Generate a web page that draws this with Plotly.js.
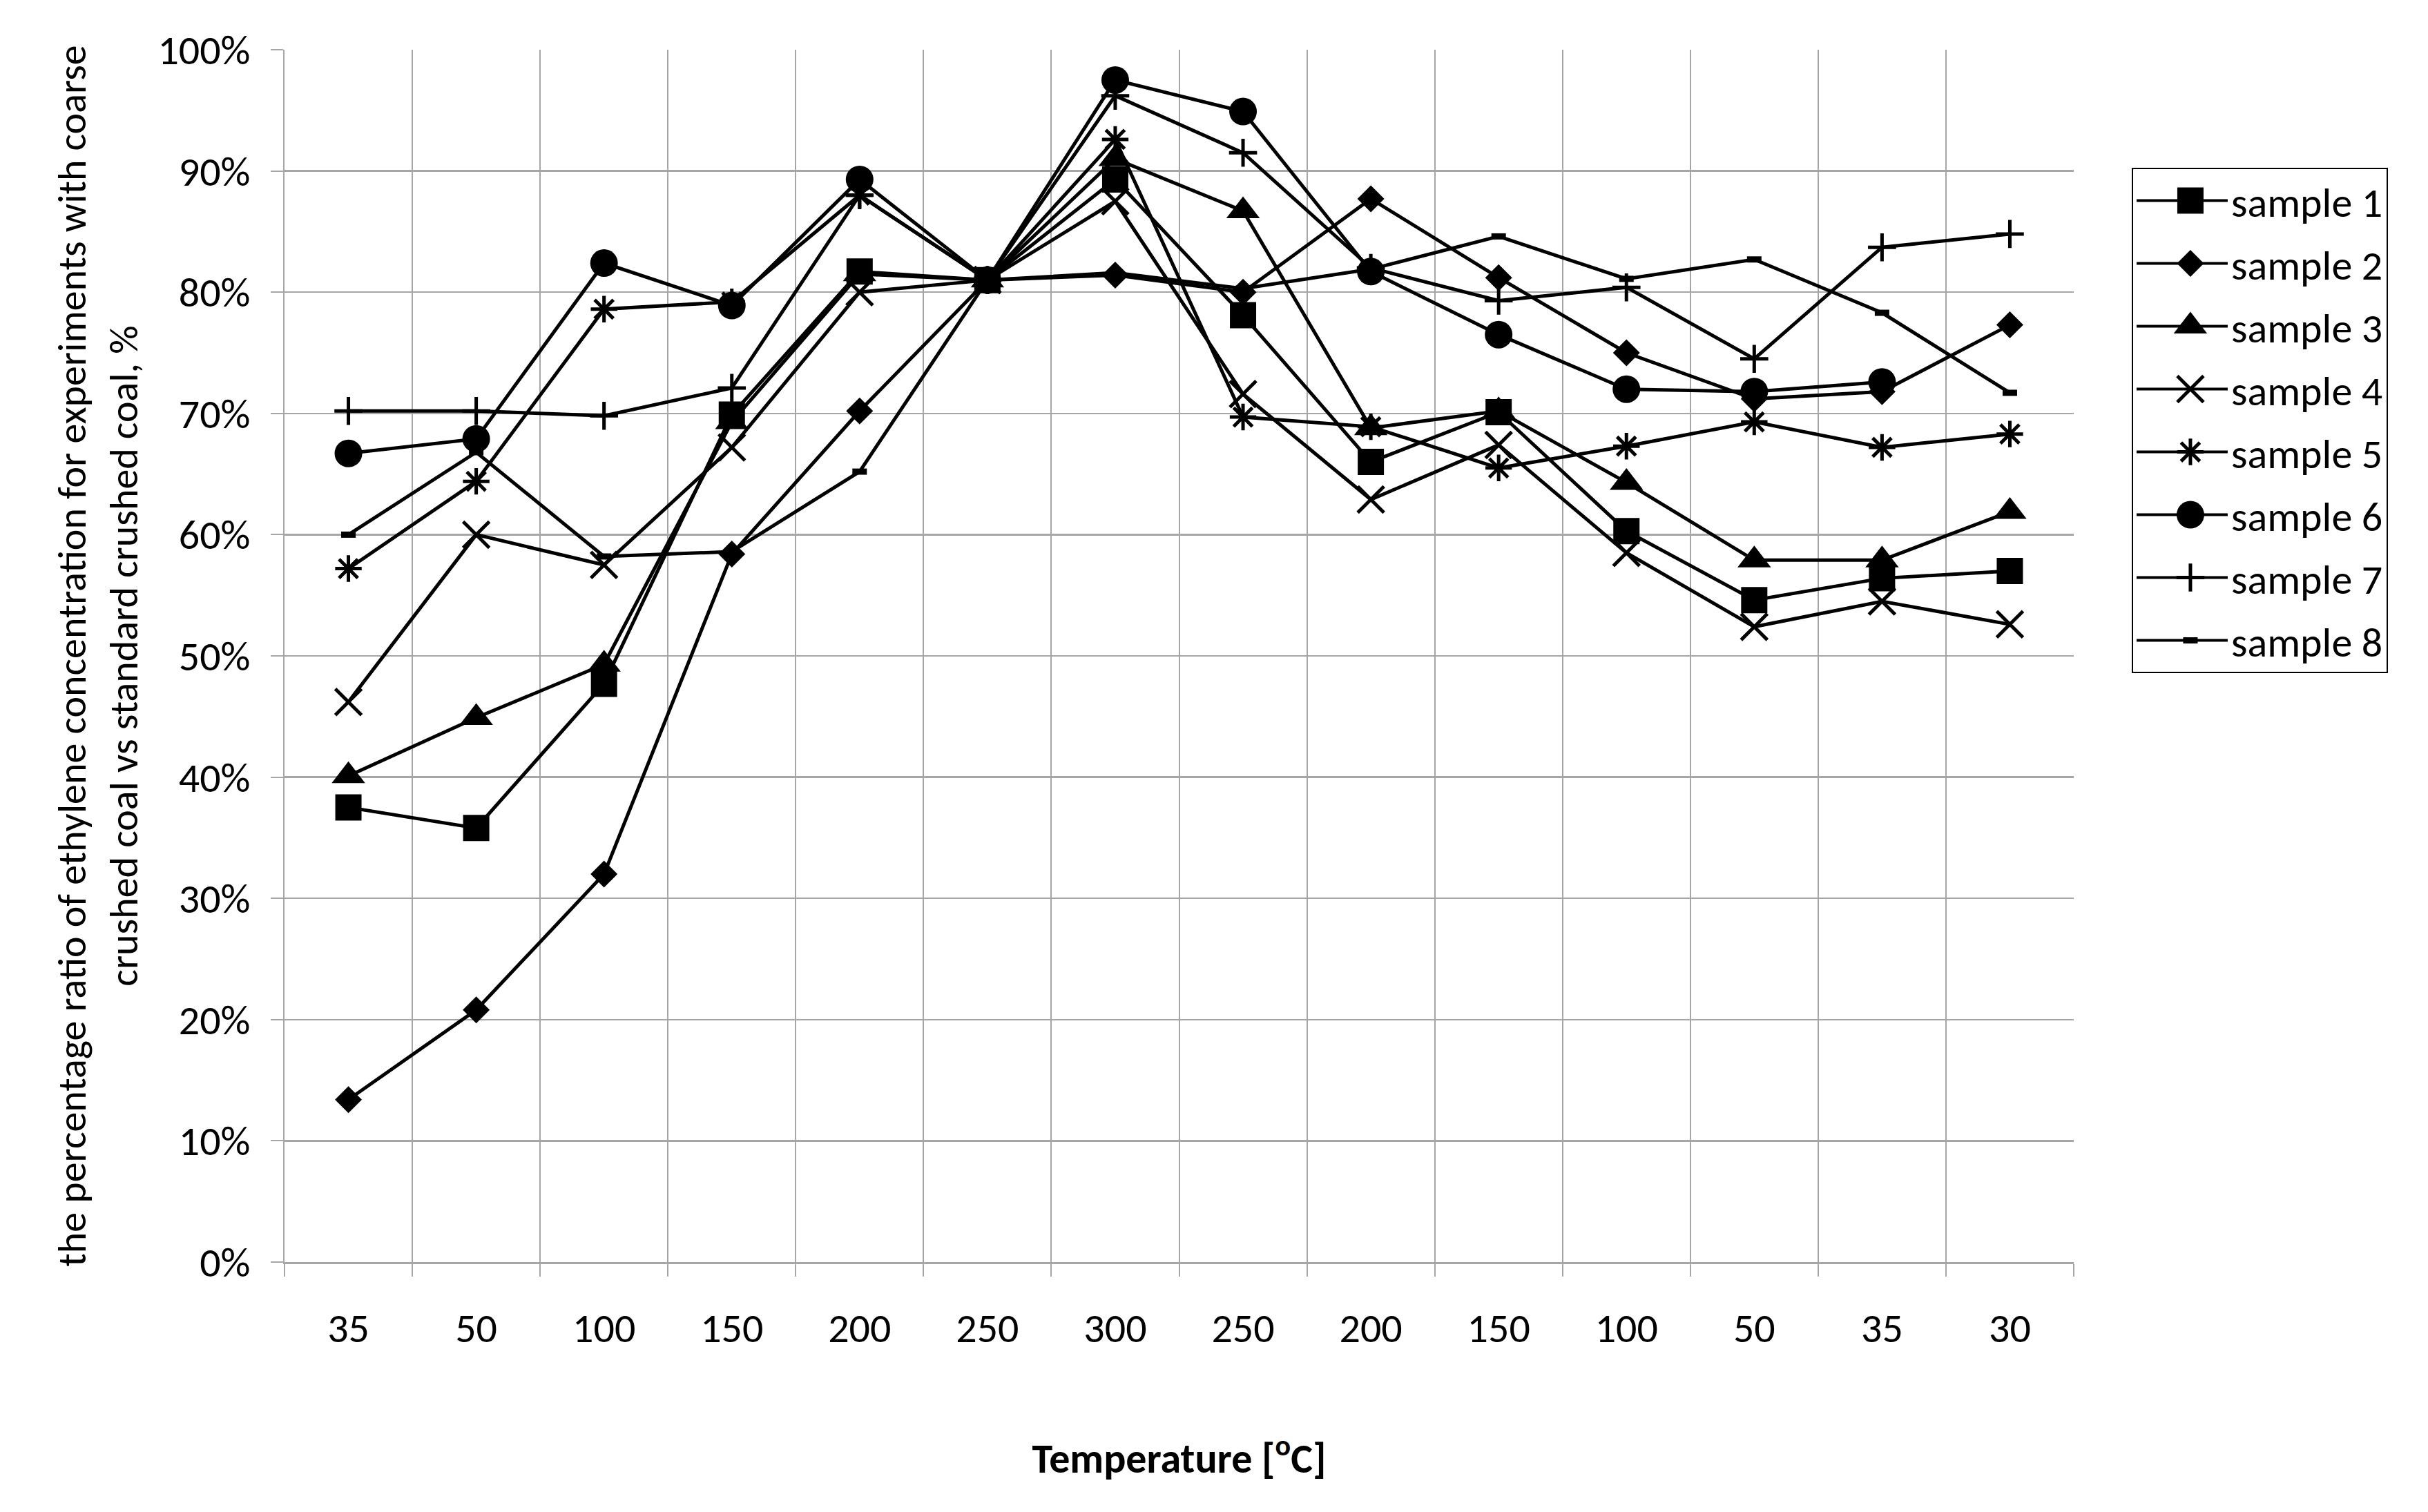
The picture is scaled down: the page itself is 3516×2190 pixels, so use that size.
<!DOCTYPE html>
<html>
<head>
<meta charset="utf-8">
<script src="https://cdn.plot.ly/plotly-3.0.1.min.js"></script>
<style>html,body{margin:0;padding:0;background:#fff}#chart{width:3516px;height:2190px}</style>
</head>
<body>
<div id="chart"></div>
<script>
// Temperature sequence (heating then cooling)
const tempLabels = ['35','50','100','150','200','250','300','250','200','150','100','50','35','30'];
// Ratio values, %
const sample1 = [37.5, 35.8, 47.7, 69.9, 81.7, 81.0, 89.3, 78.1, 66.0, 70.1, 60.3, 54.6, 56.4, 57.0];
const sample2 = [13.4, 20.8, 32.0, 58.4, 70.2, 81.0, 81.4, 80.0, 87.7, 81.2, 75.0, 71.2, 71.8, 77.3];
const sample3 = [40.1, 44.9, 49.3, 69.3, 81.5, 81.0, 91.0, 86.7, 68.8, 70.2, 64.3, 57.9, 57.9, 61.9];
const sample4 = [46.2, 60.0, 57.5, 67.2, 80.0, 81.0, 87.5, 71.6, 62.9, 67.4, 58.5, 52.4, 54.5, 52.6];
const sample5 = [57.2, 64.4, 78.6, 79.2, 88.0, 81.0, 92.6, 69.7, 68.9, 65.5, 67.3, 69.3, 67.2, 68.3];
const sample6 = [66.7, 67.9, 82.4, 78.9, 89.3, 81.0, 97.5, 94.9, 81.7, 76.5, 72.0, 71.8, 72.6, null];
const sample7 = [70.2, 70.2, 69.8, 72.1, 88.0, 81.0, 96.2, 91.5, 82.0, 79.3, 80.4, 74.5, 83.7, 84.8];
const sample8 = [60.0, 66.8, 58.2, 58.6, 65.2, 81.0, 81.6, 80.3, 81.9, 84.6, 81.1, 82.7, 78.3, 71.7];
const seriesNames = ['sample 1','sample 2','sample 3','sample 4','sample 5','sample 6','sample 7','sample 8'];

const FONT = 'Carlito, Lato, sans-serif';
const GRID = '#a6a6a6';
const xIdx = tempLabels.map((_, i) => i);
const boundaries = tempLabels.map((_, i) => i - 0.5).concat([tempLabels.length - 0.5]);

const styles = [
  {symbol: 'square', size: 38},
  {symbol: 'diamond', size: 30},
  {symbol: 'triangle-up', size: 42},
  {symbol: 'x-thin-open', size: 38, lw: 5},
  {symbol: 'asterisk-open', size: 32, lw: 5},
  {symbol: 'circle', size: 40},
  {symbol: 'cross-thin-open', size: 29, lw: 5},
  {symbol: 'line-ew-open', size: 15, lw: 9}
];
const allSeries = [sample1, sample2, sample3, sample4, sample5, sample6, sample7, sample8];

const traces = allSeries.map((vals, k) => ({
  type: 'scatter',
  mode: 'lines+markers',
  name: seriesNames[k],
  legendgroup: 'g' + k,
  x: xIdx,
  y: vals.map(v => v === null ? null : v / 100),
  line: {color: '#000', width: 5},
  marker: {
    symbol: styles[k].symbol,
    size: styles[k].size,
    color: '#000',
    line: {color: '#000', width: styles[k].lw || 0}
  },
  connectgaps: false
}));

const layout = {
  width: 3516,
  height: 2190,
  paper_bgcolor: '#fff',
  plot_bgcolor: '#fff',
  font: {family: FONT, size: 60, color: '#000'},
  margin: {l: 412, r: 513, t: 72, b: 362, pad: 0},
  showlegend: true,
  legend: {
    x: 1.0324, y: 0.9026, xanchor: 'left', yanchor: 'top',
    bordercolor: '#000', borderwidth: 2,
    font: {family: FONT, size: 60, color: '#000'},
    tracegroupgap: 10,
    itemwidth: 132
  },
  xaxis: {
    type: 'linear',
    range: [-0.5, tempLabels.length - 0.5],
    tickmode: 'array',
    tickvals: xIdx,
    ticktext: tempLabels,
    ticks: '',
    showgrid: false,
    zeroline: false,
    showline: true,
    linecolor: GRID,
    linewidth: 2.5,
    ticklabelstandoff: 41,
    tickfont: {family: FONT, size: 60, color: '#000'},
    minor: {
      tickmode: 'array',
      tickvals: boundaries,
      showgrid: true,
      gridcolor: GRID,
      gridwidth: 2,
      ticks: 'outside',
      ticklen: 18,
      tickwidth: 2,
      tickcolor: GRID
    },
    title: {
      text: '<b>Temperature [<sup>o</sup>C]</b>',
      font: {family: FONT, size: 60, color: '#000'},
      standoff: 133
    }
  },
  yaxis: {
    range: [0, 1],
    tickmode: 'linear',
    tick0: 0,
    dtick: 0.1,
    tickformat: '.0%',
    ticks: 'outside',
    ticklen: 18,
    tickwidth: 2,
    tickcolor: GRID,
    showgrid: true,
    gridcolor: GRID,
    gridwidth: 2.5,
    zeroline: false,
    showline: true,
    linecolor: GRID,
    linewidth: 2.5,
    ticklabelstandoff: 17,
    tickfont: {family: FONT, size: 60, color: '#000'},
    title: {
      text: 'the percentage ratio of ethylene concentration for experiments with coarse<br>crushed coal vs standard crushed coal, %',
      font: {family: FONT, size: 58, color: '#000'},
      standoff: 30
    }
  }
};

Plotly.newPlot('chart', traces, layout, {staticPlot: true, displayModeBar: false}).then(gd => {
  // Enlarge legend symbols to match the plotted marker size (Plotly caps legend markers at 16px)
  const items = gd.querySelectorAll('.legend .traces');
  items.forEach((item, k) => {
    const st = styles[k];
    if (!st) return;
    const scale = Math.max(1, st.size / Math.min(st.size, 16));
    item.querySelectorAll('.legendlines path').forEach(l => { l.style.strokeWidth = '4px'; });
    item.querySelectorAll('.legendpoints path').forEach(p => {
      const orig = p.getAttribute('transform') || '';
      const m = orig.match(/translate\(\s*(-?[\d.]+)[ ,]+(-?[\d.]+)/);
      const tx = m ? Number(m[1]) + 12 : 20;
      const ty = m ? Number(m[2]) : 0;
      p.setAttribute('transform', 'translate(' + tx + ',' + ty + ') scale(' + scale + ')');
      p.style.vectorEffect = 'non-scaling-stroke';
      if (st.lw) p.style.strokeWidth = st.lw + 'px';
    });
  });
  // Nudge the y-axis title toward the tick labels
  const yt = gd.querySelector('.g-ytitle');
  if (yt) yt.setAttribute('transform', 'translate(20,0)');
});
</script>
</body>
</html>
